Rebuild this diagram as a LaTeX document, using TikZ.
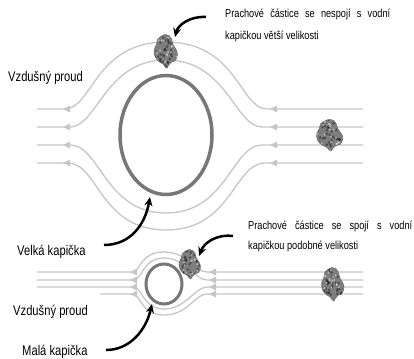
\documentclass[tikz,border=0pt]{standalone}
\usepackage{fontspec}
\usetikzlibrary{arrows.meta}
\newfontfamily\narrowsans[FakeStretch=0.8]{Liberation Sans}
\definecolor{flowgray}{HTML}{C6C6C6}
\definecolor{dropgray}{HTML}{777777}
\definecolor{dustgray}{HTML}{7E7E7E}

% small left-pointing head on a stream line
\newcommand{\flowtip}[2]{\fill[flowgray] (#1,#2) -- ++(7,-3.5) -- ++(0,7) -- cycle;}
% dust grain: x, y, width, height
\newcommand{\dustgrain}[4]{%
  \begin{scope}[shift={(#1,#2)}, xscale=#3, yscale=#4]
    \begin{scope}
      \path[clip] plot[smooth cycle, tension=0.6] coordinates {(-0.22,-0.44) (-0.05,-0.5) (0.12,-0.47) (0.22,-0.38) (0.3,-0.18) (0.42,-0.05) (0.48,0.12) (0.38,0.3) (0.22,0.34) (0.1,0.44) (0.02,0.52) (-0.12,0.4) (-0.3,0.32) (-0.45,0.18) (-0.5,-0.02) (-0.4,-0.2) (-0.35,-0.36)};
      \fill[dustgray] (-0.6,-0.6) rectangle (0.6,0.6);
      \foreach \i in {1,...,50} {\fill[black, opacity=0.4] (0.5*rand,0.55*rand) circle (0.05);}
      \foreach \i in {1,...,30} {\fill[white, opacity=0.45] (0.5*rand,0.55*rand) circle (0.04);}
    \end{scope}
    \draw[black!60, line width=0.4pt] plot[smooth cycle, tension=0.6] coordinates {(-0.22,-0.44) (-0.05,-0.5) (0.12,-0.47) (0.22,-0.38) (0.3,-0.18) (0.42,-0.05) (0.48,0.12) (0.38,0.3) (0.22,0.34) (0.1,0.44) (0.02,0.52) (-0.12,0.4) (-0.3,0.32) (-0.45,0.18) (-0.5,-0.02) (-0.4,-0.2) (-0.35,-0.36)};
  \end{scope}}

\begin{document}
\begin{tikzpicture}[x=1pt, y=-1pt,
    flow/.style={flowgray, line width=1.3pt},
    drop/.style={dropgray},
    pointer/.style={line width=2.5pt, -{Stealth[length=9pt, width=8pt]}},
    label/.style={font=\narrowsans\fontsize{14}{16}\selectfont, inner sep=0pt, anchor=base west},
    note/.style={inner sep=0pt, align=left, anchor=north west}]
  \pgfmathsetseed{7}
  \useasboundingbox (0,0) rectangle (414,358);

  % large droplet and the stream bending round it
  \draw[flow] (363,109) -- (267,109) .. controls (240,109) and (237,42) .. (166,42) .. controls (95,42) and (92,109) .. (65,109) -- (37,109);
  \draw[flow] (363,127) -- (262,127) .. controls (235,127) and (227,60) .. (166,60) .. controls (105,60) and (97,127) .. (70,127) -- (37,127);
  \draw[flow] (363,145) -- (262,145) .. controls (232,145) and (227,213) .. (166,213) .. controls (105,213) and (100,145) .. (70,145) -- (37,145);
  \draw[flow] (363,163) -- (265,163) .. controls (234,163) and (232,230) .. (166,230) .. controls (100,230) and (98,163) .. (68,163) -- (37,163);
  \foreach \y in {109,127,145,163} {\flowtip{63}{\y} \flowtip{270}{\y}}
  \draw[drop, line width=3.5pt] (166,135) ellipse [x radius=46, y radius=59.5];

  % small droplet
  \draw[flow] (37,272) -- (133,272) .. controls (140,272) and (140,252) .. (164,252) .. controls (188,252) and (195,272) .. (207,272) -- (363,272);
  \draw[flow] (37,280) -- (133,280) .. controls (143,280) and (142,258) .. (164,258) .. controls (186,258) and (195,280) .. (207,280) -- (363,280);
  \draw[flow] (37,287) -- (133,287) .. controls (143,287) and (142,309) .. (164,309) .. controls (186,309) and (195,287) .. (207,287) -- (363,287);
  \draw[flow] (100,294) -- (133,294) .. controls (141,294) and (140,315) .. (164,315) .. controls (188,315) and (195,294) .. (207,294) -- (363,294);
  \foreach \y in {272,280,287,294} {\flowtip{130}{\y} \flowtip{209}{\y}}
  \draw[drop, line width=3pt] (164,284) ellipse [x radius=18, y radius=20];

  % dust
  \dustgrain{166}{51}{24}{33}
  \dustgrain{330}{135}{27}{31}
  \dustgrain{190}{264}{22}{29}
  \dustgrain{333}{284}{23}{33}

  % labels
  \node[label] (proudhorni) at (8,82) {Vzdušný proud};
  \node[label] (velka) at (17,255) {Velká kapička};
  \node[label] (prouddolni) at (13,315) {Vzdušný proud};
  \node[label] (mala) at (22,355) {Malá kapička};
  \node[note, font=\narrowsans\fontsize{11.5}{22}\selectfont] (nespoji) at (225,9)
    {\makebox[165pt][s]{Prachové částice se nespojí s vodní}\\kapičkou větší velikosti};
  \node[note, font=\narrowsans\fontsize{11.5}{20}\selectfont] (spoji) at (248,221)
    {\makebox[164pt][s]{Prachové částice se spojí s vodní}\\kapičkou podobné velikosti};

  % pointers
  \coordinate (nespojitail) at (206,17);
  \coordinate (nespojitip) at (175,37);
  \coordinate (spojitail) at (233,236);
  \coordinate (spojitip) at (199,256);
  \coordinate (velkatail) at (104,245);
  \coordinate (velkatip) at (150,197);
  \coordinate (malatail) at (106,350);
  \coordinate (malatip) at (152,304);
  \draw[pointer] (nespojitail) .. controls (190,16) and (178,25) .. (nespojitip);
  \draw[pointer] (spojitail) .. controls (216,234) and (204,243) .. (spojitip);
  \draw[pointer] (velkatail) .. controls (130,245) and (145,225) .. (velkatip);
  \draw[pointer] (malatail) .. controls (130,350) and (146,330) .. (malatip);
\end{tikzpicture}
\end{document}
